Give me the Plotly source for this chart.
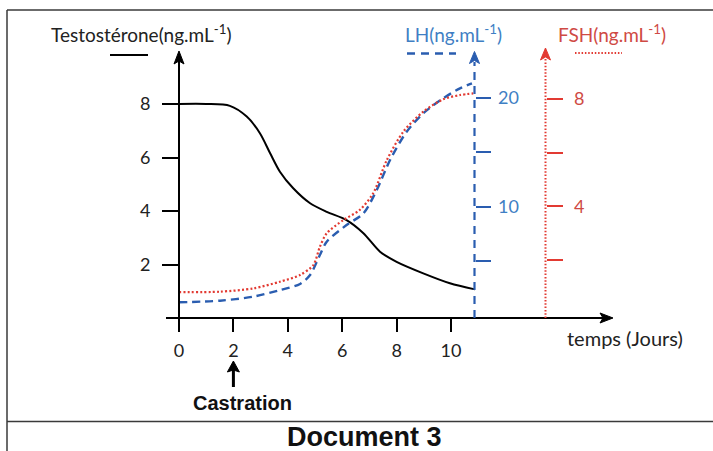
import plotly.graph_objects as go

# ---------------- data ----------------
days_testo = [0, 1.0, 1.87, 2.49, 2.98, 3.35, 3.71, 4.20, 4.82, 5.43, 6.16, 6.78, 7.39, 8.0, 8.98, 9.96, 10.88]
testo = [8.0, 8.0, 7.93, 7.53, 6.90, 6.16, 5.47, 4.85, 4.29, 3.97, 3.66, 3.17, 2.48, 2.10, 1.67, 1.30, 1.07]

days_lh = [0, 1.51, 2.73, 3.71, 4.45, 4.82, 5.18, 5.43, 6.16, 6.78, 7.27, 7.76, 8.37, 8.98, 9.71, 10.33, 10.77]
lh = [1.17, 1.32, 1.69, 2.30, 2.86, 3.69, 5.53, 6.76, 8.29, 9.37, 11.52, 14.29, 16.89, 18.59, 19.97, 20.89, 21.35]

days_fsh = [0, 1.51, 2.73, 3.71, 4.45, 4.94, 5.18, 5.43, 6.04, 6.65, 7.14, 7.64, 8.25, 8.98, 9.71, 10.33, 10.82]
fsh = [0.81, 0.83, 0.95, 1.20, 1.45, 1.82, 2.50, 3.00, 3.49, 3.87, 4.49, 5.72, 6.78, 7.52, 7.98, 8.14, 8.20]

x_ticks = [0, 2, 4, 6, 8, 10]
testo_ticks = [2, 4, 6, 8]
lh_ticks = [10, 20]
lh_minor_ticks = [5, 15]
fsh_ticks = [4, 8]
fsh_minor_ticks = [2, 6]
castration_day = 2

# ---------------- layout geometry (pixels) ----------------
W, H = 713, 451
PL, PR, PT, PB = 150, 640, 40, 406
X0_PX, PX_DAY = 179, 27.2
T0_PX, PX_T = 318, 26.75
LH0_PX, PX_LH = 315, 10.85
F0_PX, PX_F = 314, 26.9


def px(xp):
    return (xp - PL) / (PR - PL)


def py(yp):
    return (PB - yp) / (PB - PT)


def day(xp):
    return (xp - X0_PX) / PX_DAY


x_range = [day(PL), day(PR)]
t_range = [(T0_PX - PB) / PX_T, (T0_PX - PT) / PX_T]
lh_range = [(LH0_PX - PB) / PX_LH, (LH0_PX - PT) / PX_LH]
f_range = [(F0_PX - PB) / PX_F, (F0_PX - PT) / PX_F]

LH_AX_PX = 474.5
FSH_AX_PX = 545.5
CAST_PX = X0_PX + castration_day * PX_DAY

BLUE = "#2a5db0"
BLUE_TXT = "#3f7fc4"
RED = "#e23a32"
RED_TXT = "#cf4a44"
FONT = "Lato"

fig = go.Figure()
fig.add_trace(go.Scatter(x=days_fsh, y=fsh, mode="lines", yaxis="y3",
                         line=dict(color=RED, width=2.2, dash="2px,2.2px", shape="spline", smoothing=0.8),
                         showlegend=False, hoverinfo="skip"))
fig.add_trace(go.Scatter(x=days_lh, y=lh, mode="lines", yaxis="y2",
                         line=dict(color=BLUE, width=2.4, dash="8px,5px", shape="spline", smoothing=0.8),
                         showlegend=False, hoverinfo="skip"))
fig.add_trace(go.Scatter(x=days_testo, y=testo, mode="lines", yaxis="y",
                         line=dict(color="black", width=2, shape="spline", smoothing=0.8),
                         showlegend=False, hoverinfo="skip"))

tickfont = dict(family=FONT, size=18, color="#222")

fig.update_layout(
    width=W, height=H,
    margin=dict(l=PL, r=W - PR, t=PT, b=H - PB, pad=0),
    paper_bgcolor="white", plot_bgcolor="white",
    xaxis=dict(range=x_range, anchor="free", position=py(T0_PX),
               showgrid=False, zeroline=False, showline=False,
               tickvals=x_ticks, ticks="outside", ticklen=13, tickwidth=2, tickcolor="black",
               tickfont=tickfont, ticklabelstandoff=3),
    yaxis=dict(range=t_range, anchor="free", position=px(X0_PX),
               showgrid=False, zeroline=False, showline=False,
               tickvals=testo_ticks, ticks="outside", ticklen=17, tickwidth=2, tickcolor="black",
               tickfont=tickfont, ticklabelstandoff=8),
    yaxis2=dict(range=lh_range, overlaying="y", anchor="free", position=px(LH_AX_PX), side="right",
                showgrid=False, zeroline=False, showline=False,
                tickvals=lh_ticks, ticks="outside", ticklen=15, tickwidth=2, tickcolor=BLUE,
                minor=dict(tickvals=lh_minor_ticks, ticks="outside", ticklen=15, tickwidth=2,
                           tickcolor=BLUE, showgrid=False),
                tickfont=dict(family=FONT, size=18, color=BLUE_TXT), ticklabelstandoff=4),
    yaxis3=dict(range=f_range, overlaying="y", anchor="free", position=px(FSH_AX_PX), side="right",
                showgrid=False, zeroline=False, showline=False,
                tickvals=fsh_ticks, ticks="outside", ticklen=16, tickwidth=2, tickcolor=RED,
                minor=dict(tickvals=fsh_minor_ticks, ticks="outside", ticklen=16, tickwidth=2,
                           tickcolor=RED, showgrid=False),
                tickfont=dict(family=FONT, size=18, color=RED_TXT), ticklabelstandoff=8),
)


def pline(x0, y0, x1, y1, color, width, dash=None):
    ln = dict(color=color, width=width)
    if dash:
        ln["dash"] = dash
    return dict(type="line", xref="paper", yref="paper", x0=px(x0), x1=px(x1), y0=py(y0), y1=py(y1), line=ln)


def head(xt, yt, direction, color, length=13, half=5, notch=3):
    # notched arrow head, tip at (xt, yt) in pixels
    if direction == "up":
        pts = [(xt, yt), (xt - half, yt + length), (xt, yt + length - notch), (xt + half, yt + length)]
    else:  # right
        pts = [(xt, yt), (xt - length, yt - half), (xt - length + notch, yt), (xt - length, yt + half)]
    path = "M " + " L ".join(f"{px(a):.5f},{py(b):.5f}" for a, b in pts) + " Z"
    return dict(type="path", xref="paper", yref="paper", path=path,
                fillcolor=color, line=dict(color=color, width=1))


shapes = []
# main axes
shapes.append(pline(X0_PX, 332, X0_PX, 58, "black", 2))
shapes.append(pline(166, T0_PX, 606, T0_PX, "black", 2))
shapes.append(head(X0_PX, 51, "up", "black"))
shapes.append(head(613, T0_PX, "right", "black"))
# dashed LH axis and dotted FSH axis
shapes.append(pline(LH_AX_PX, T0_PX, LH_AX_PX, 62, BLUE, 2.2, "8px,6px"))
shapes.append(head(LH_AX_PX, 51.5, "up", BLUE, length=12, half=5))
shapes.append(pline(FSH_AX_PX, T0_PX, FSH_AX_PX, 58, RED, 2, "1.5px,1.8px"))
shapes.append(head(FSH_AX_PX, 48, "up", RED, length=12, half=5))
# castration arrow
shapes.append(pline(CAST_PX, 387, CAST_PX, 368, "black", 3))
shapes.append(head(CAST_PX, 361, "up", "black", length=11, half=6, notch=2))
# legend keys
shapes.append(pline(110, 55, 148, 55, "black", 2))
shapes.append(pline(407, 53.5, 456, 53.5, BLUE, 2.4, "8px,6px"))
shapes.append(pline(575, 53, 622, 53, RED, 2, "1.5px,1.8px"))
# frame
FR = "#3a3a3a"
shapes.append(pline(7, 10, 713, 10, FR, 1.5))
shapes.append(pline(7, 10, 7, 451, FR, 1.5))
shapes.append(pline(7, 421.5, 713, 421.5, FR, 1.5))
fig.update_layout(shapes=shapes)


def label(text, xp, yp, size=20, color="#222", family=FONT, bold=False):
    t = f"<b>{text}</b>" if bold else text
    return dict(x=px(xp), y=py(yp), xref="paper", yref="paper", text=t, showarrow=False,
                xanchor="center", yanchor="middle", font=dict(family=family, size=size, color=color))


ann = [
    label("Testostérone(ng.mL<sup>-1</sup>)", 141, 33, size=19),
    label("LH(ng.mL<sup>-1</sup>)", 453, 33, size=19, color=BLUE_TXT),
    label("FSH(ng.mL<sup>-1</sup>)", 612, 33, size=19, color=RED_TXT),
    label("temps (Jours)", 625, 338),
    label("Castration", 242.5, 403, size=20, color="#111", family="Liberation Sans", bold=True),
    label("Document 3", 364, 437, size=27, color="#111", family="Liberation Sans", bold=True),
]
fig.update_layout(annotations=ann)

fig.write_html("out.html", config={"displayModeBar": False},
               post_script="document.body.style.margin='0';document.body.style.overflow='hidden';")
